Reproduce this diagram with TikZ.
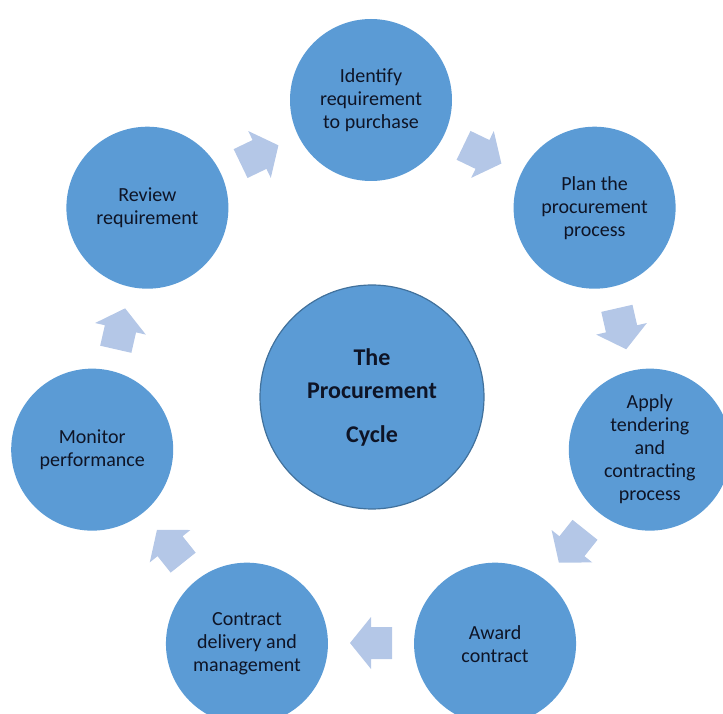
\documentclass[tikz,border=0pt]{standalone}
\usepackage{fontspec}
\setmainfont{Carlito}
\definecolor{stepblue}{RGB}{91,155,213}
\definecolor{arrowblue}{RGB}{180,199,231}
\definecolor{rimblue}{RGB}{65,113,156}
\definecolor{textnavy}{RGB}{14,20,38}
\tikzset{
	stage/.style={circle,fill=stepblue,minimum size=81pt,inner sep=0pt,align=center,text=textnavy,font=\fontsize{10}{11.5}\selectfont},
	hub/.style={circle,fill=stepblue,draw=rimblue,line width=0.6pt,minimum size=112pt,inner sep=0pt,align=center,text=textnavy,font=\bfseries\fontsize{12}{16.5}\selectfont},
	cyclearrow/.pic={\fill[arrowblue] (-21,-16) -- (0,-16) -- (0,-26) -- (21,0) -- (0,26) -- (0,16) -- (-21,16) -- cycle;}
}
\begin{document}
\begin{tikzpicture}[x=0.5pt,y=0.5pt]
	\def\R{286}
	\useasboundingbox (0,0) rectangle (723,713);
	\coordinate (c) at (371,327);
	\node[hub] (hub) at (372,316) {The\\Procurement\\[5.5pt]Cycle};
	\node[stage] (identify) at ([shift={(90:\R)}]c) {Identify\\requirement\\to purchase};
	\node[stage] (plan) at ([shift={(38.57:\R)}]c) {Plan the\\procurement\\process};
	\node[stage] (apply) at ([shift={(-12.86:\R)}]c) {Apply\\tendering\\and\\contracting\\process};
	\node[stage] (award) at ([shift={(-64.29:\R)}]c) {Award\\contract};
	\node[stage] (deliver) at ([shift={(-115.71:\R)}]c) {Contract\\delivery and\\management};
	\node[stage] (monitor) at ([shift={(-167.14:\R)}]c) {Monitor\\performance};
	\node[stage] (review) at ([shift={(141.43:\R)}]c) {Review\\requirement};
	% arrows half way between the stages
	\foreach \a in {115.71,64.29,12.86,-38.57,-90,-141.43,167.14}
		\pic[rotate=\a-90] at ([shift={(\a:257)}]c) {cyclearrow};
\end{tikzpicture}
\end{document}
